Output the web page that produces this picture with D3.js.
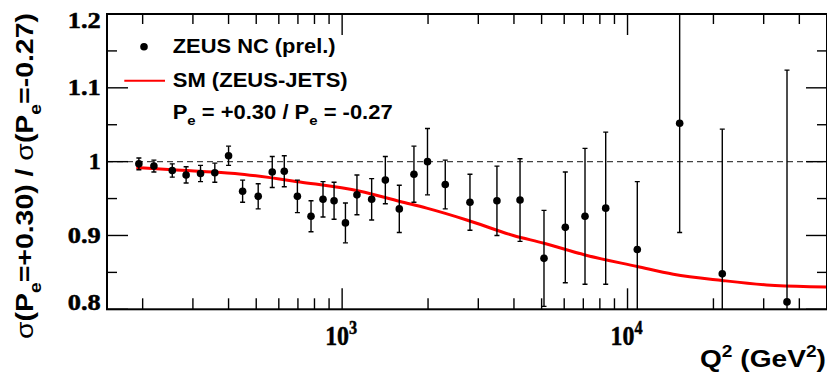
<!DOCTYPE html>
<html lang="en">
<head>
<meta charset="UTF-8">
<title>ZEUS NC polarised cross-section ratio</title>
<script src="https://d3js.org/d3.v7.min.js"></script>
<style>
  body { margin: 0; background: #fff; }
</style>
</head>
<body>
<div id="chart"></div>
<script>
// measured points (ZEUS NC prel.)
var q2 = [194, 219, 254, 284, 319, 358, 400, 448, 508, 569, 627, 697, 778, 857, 937,
          1027, 1127, 1269, 1417, 1586, 1785, 1991, 2298, 2805, 3487, 4201, 5097, 6053,
          7096, 8386, 10820, 15230, 21480, 36210];
var ratio = [0.997, 0.994, 0.988, 0.982, 0.984, 0.985, 1.008, 0.960, 0.953, 0.986, 0.987,
             0.953, 0.926, 0.949, 0.947, 0.917, 0.955, 0.949, 0.975, 0.936, 0.983, 1.000,
             0.969, 0.945, 0.947, 0.948, 0.869, 0.911, 0.926, 0.937, 0.881, 1.052, 0.848, 0.810];
var err = [0.008, 0.008, 0.009, 0.011, 0.011, 0.013, 0.013, 0.015, 0.017, 0.021, 0.021,
           0.022, 0.021, 0.024, 0.025, 0.027, 0.027, 0.028, 0.032, 0.032, 0.038, 0.045,
           0.033, 0.038, 0.047, 0.056, 0.065, 0.075, 0.092, 0.103, 0.092, 0.148, 0.196, 0.314];

// SM (ZEUS-JETS) expectation
var smQ2 = [190, 254, 421, 712, 1155, 1595, 1978, 2732, 3979, 5097, 7096, 10820, 14465,
            21480, 30730, 43590, 50000];
var smRatio = [0.992, 0.989, 0.984, 0.9725, 0.960, 0.946, 0.937, 0.921, 0.900, 0.8895,
               0.8736, 0.858, 0.8475, 0.839, 0.833, 0.8307, 0.8303];

var yTicks = [0.8, 0.9, 1.0, 1.1, 1.2];
var yTickLabels = ['0.8', '0.9', '1', '1.1', '1.2'];
var xTicks = [1000, 10000];
var xTickExp = ['3', '4'];

var width = 827, height = 373;
// frame edges (note: "top" is reserved on window, so use prefixed names)
var fL = 107, fR = 827, fT = 14, fB = 309.3;

var svg = d3.select('#chart').append('svg')
    .attr('width', width)
    .attr('height', height);

var x = d3.scaleLog().domain([150, 50000]).range([fL, fR]);
var y = d3.scaleLinear().domain([0.8, 1.2]).range([fB, fT]);

svg.append('defs').append('clipPath').attr('id', 'frame')
    .append('rect')
    .attr('x', fL).attr('y', fT)
    .attr('width', fR - fL).attr('height', fB - fT);

// text helper: builds text from parts, then stretches it along the baseline to a given length
function label(g, px, py, parts, size, len, anchor, rot, family) {
    var t = g.append('text')
        .attr('font-size', size)
        .attr('font-family', family || '"Liberation Sans", Arial, sans-serif')
        .attr('font-weight', 'bold');
    var shift = 0;
    parts.forEach(function (p) {
        var s = t.append('tspan').text(p[0]);
        var want = p[1] == 'sub' ? size * 0.32 : p[1] == 'sup' ? -size * 0.42 : 0;
        s.attr('dy', want - shift);
        shift = want;
        if (p[1]) s.attr('font-size', size * 0.68);
        if (p[2]) s.attr('font-weight', p[2]);
    });
    var w = t.node().getComputedTextLength();
    var k = len / w;
    var dx = anchor == 'end' ? -len : anchor == 'middle' ? -len / 2 : 0;
    t.attr('transform', 'translate(' + px + ',' + py + ') rotate(' + (rot || 0) + ') translate(' + dx + ',0) scale(' + k + ',1)');
    return t;
}

// dashed reference line at 1
svg.append('line')
    .attr('x1', fL).attr('x2', fR)
    .attr('y1', y(1)).attr('y2', y(1))
    .attr('stroke', '#444')
    .attr('stroke-width', 1.4)
    .attr('stroke-dasharray', '6,4');

var plot = svg.append('g').attr('clip-path', 'url(#frame)');

// SM curve
plot.append('path')
    .datum(smQ2.map(function (d, i) { return [d, smRatio[i]]; }))
    .attr('fill', 'none')
    .attr('stroke', '#ff0000')
    .attr('stroke-width', 3)
    .attr('d', d3.line()
        .x(function (d) { return x(d[0]); })
        .y(function (d) { return y(d[1]); })
        .curve(d3.curveMonotoneX));

// error bars
var bars = plot.append('g').attr('stroke', '#000').attr('stroke-width', 1.4);
q2.forEach(function (d, i) {
    var cx = x(d), hi = y(ratio[i] + err[i]), lo = y(ratio[i] - err[i]);
    bars.append('line').attr('x1', cx).attr('x2', cx).attr('y1', hi).attr('y2', lo);
    bars.append('line').attr('x1', cx - 2.5).attr('x2', cx + 2.5).attr('y1', hi).attr('y2', hi);
    bars.append('line').attr('x1', cx - 2.5).attr('x2', cx + 2.5).attr('y1', lo).attr('y2', lo);
});

plot.selectAll('circle.pt')
    .data(q2)
    .enter()
    .append('circle')
    .attr('class', 'pt')
    .attr('cx', function (d) { return x(d); })
    .attr('cy', function (d, i) { return y(ratio[i]); })
    .attr('r', 3.8)
    .attr('fill', '#000');

// frame
svg.append('rect')
    .attr('x', fL).attr('y', fT)
    .attr('width', fR - fL).attr('height', fB - fT)
    .attr('fill', 'none')
    .attr('stroke', '#000')
    .attr('stroke-width', 2);

// ticks
var ticks = svg.append('g').attr('stroke', '#000').attr('stroke-width', 1.4);
var xMinor = [];
[100, 1000, 10000].forEach(function (dec) {
    for (var k = 2; k <= 9; k++) {
        if (dec * k > 150 && dec * k < 50000) xMinor.push(dec * k);
    }
});
xMinor.forEach(function (d) {
    ticks.append('line').attr('x1', x(d)).attr('x2', x(d)).attr('y1', fB).attr('y2', fB - 11);
    ticks.append('line').attr('x1', x(d)).attr('x2', x(d)).attr('y1', fT).attr('y2', fT + 10);
});
xTicks.forEach(function (d) {
    ticks.append('line').attr('x1', x(d)).attr('x2', x(d)).attr('y1', fB).attr('y2', fB - 21);
    ticks.append('line').attr('x1', x(d)).attr('x2', x(d)).attr('y1', fT).attr('y2', fT + 21);
});
d3.range(0.8, 1.2001, 0.05).forEach(function (v, i) {
    var len = i % 2 == 0 ? 21 : 10;
    ticks.append('line').attr('x1', fL).attr('x2', fL + len).attr('y1', y(v)).attr('y2', y(v));
    ticks.append('line').attr('x1', fR).attr('x2', fR - len).attr('y1', y(v)).attr('y2', y(v));
});

// tick labels (heavy serif like the ROOT output)
var serif = '"Liberation Serif", "Times New Roman", serif';
yTicks.forEach(function (v, i) {
    var cy = Math.min(Math.max(y(v), 20), 302);
    var txt = yTickLabels[i];
    label(svg, 100.7, cy + 7.5, [[txt]], 23, txt.length == 1 ? 12 : 33, 'end', 0, serif)
        .attr('stroke', '#000').attr('stroke-width', 0.5);
});
xTicks.forEach(function (d, i) {
    label(svg, x(d) - 1, 345, [['10'], [xTickExp[i], 'sup']], 27, 32, 'middle', 0, serif)
        .attr('stroke', '#000').attr('stroke-width', 0.5);
});

// axis titles
label(svg, 826, 367, [['Q'], ['2', 'sup'], [' (GeV'], ['2', 'sup'], [')']], 23, 126, 'end', 0);
label(svg, 33, 13, [['\u03c3', '', 'normal'], ['(P'], ['e', 'sub'], ['=+0.30) / '],
    ['\u03c3', '', 'normal'], ['(P'], ['e', 'sub'], ['=-0.27)']], 24, 326, 'end', -90);

// legend
svg.append('circle').attr('cx', 144).attr('cy', 46.7).attr('r', 3.8).attr('fill', '#000');
svg.append('line')
    .attr('x1', 124.3).attr('x2', 165)
    .attr('y1', 80.7).attr('y2', 80.7)
    .attr('stroke', '#ff0000')
    .attr('stroke-width', 2);
label(svg, 172.7, 53.3, [['ZEUS NC (prel.)']], 19.5, 163, 'start');
label(svg, 172.7, 87, [['SM (ZEUS-JETS)']], 19.5, 175, 'start');
label(svg, 172.7, 118.5, [['P'], ['e', 'sub'], [' = +0.30 / P'], ['e', 'sub'], [' = -0.27']], 19.5, 220, 'start');
</script>
</body>
</html>
